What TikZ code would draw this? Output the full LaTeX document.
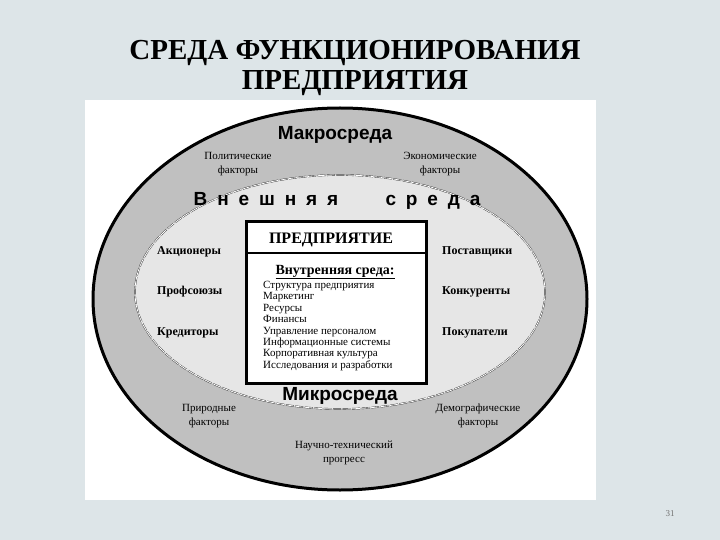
\documentclass[tikz,border=0pt]{standalone}
\usepackage{fontspec}
\setmainfont{Liberation Serif}
\newfontfamily\arialfont{Liberation Sans}
\newfontfamily\timesbold{Liberation Serif Bold}
\usetikzlibrary{positioning}
\definecolor{slidebg}{HTML}{DDE5E8}
\definecolor{macrogray}{HTML}{C0C0C0}
\definecolor{microgray}{HTML}{E6E6E6}

\begin{document}
\begin{tikzpicture}[x=1pt, y=-1pt,
    zone/.style={inner sep=0pt, anchor=base, font=\fontsize{19}{21}\selectfont\arialfont\bfseries},
    spaced/.style={zone, font=\fontsize{19}{21}\selectfont\arialfont\bfseries\addfontfeature{LetterSpace=52}},
    factor/.style={inner sep=0pt, align=center, font=\fontsize{11}{14}\selectfont},
    partner/.style={inner sep=0pt, anchor=west, font=\fontsize{12}{14}\selectfont\bfseries}]
  \fill [slidebg] (0,0) rectangle (720,540);
  \useasboundingbox (0,0) rectangle (720,540);
  \fill [white] (85,100) rectangle (596,500);

  % outer ring
  \draw [line width=3pt, fill=macrogray] (340,299) ellipse [x radius=247, y radius=191];
  % inner ring
  \draw [fill=microgray, draw=black!80, line width=0.4pt, double=white, double distance=0.8pt,
         dash pattern=on 8pt off 1.5pt] (340,292) ellipse [x radius=205, y radius=117];
  % enterprise box
  \draw [line width=3pt, fill=white] (246,222) rectangle (426,383);
  \draw [line width=2.5pt] (246,253) -- (426,253);

  \node [inner sep=0pt, align=center, font=\fontsize{29}{30}\selectfont\timesbold] (title) at (355,68)
    {СРЕДА ФУНКЦИОНИРОВАНИЯ\\ПРЕДПРИЯТИЯ};

  \node [zone] (macro) at (335,140) {Макросреда};
  \node [zone] (micro) at (340,400) {Микросреда};
  \node [spaced] (outer1) at (266,206) {Внешняя};
  \node [spaced] (outer2) at (433,206) {среда};

  \node [factor] (politics) at (238,164) {Политические\\факторы};
  \node [factor] (economy) at (440,164) {Экономические\\факторы};
  \node [factor] (nature) at (209,416) {Природные\\факторы};
  \node [factor] (demography) at (478,416) {Демографические\\факторы};
  \node [factor] (progress) at (344,453) {Научно-технический\\прогресс};

  \node [partner] (shareholders) at (157,252) {Акционеры};
  \node [partner] (unions) at (157,292) {Профсоюзы};
  \node [partner] (creditors) at (157,333) {Кредиторы};
  \node [partner] (suppliers) at (442,252) {Поставщики};
  \node [partner] (rivals) at (442,292) {Конкуренты};
  \node [partner] (buyers) at (442,333) {Покупатели};

  \node [inner sep=0pt, font=\fontsize{16}{18}\selectfont\bfseries] (firm) at (331,240) {ПРЕДПРИЯТИЕ};
  \node [inner sep=0pt, font=\fontsize{14}{16}\selectfont\bfseries] (inside) at (335,272) {\underline{Внутренняя среда:}};
  \node [inner sep=0pt, anchor=north west, align=left, font=\fontsize{11}{11.4}\selectfont] (functions) at (263,281)
    {Структура предприятия\\Маркетинг\\Ресурсы\\Финансы\\Управление персоналом\\Информационные системы\\Корпоративная культура\\Исследования и разработки};

  \node [inner sep=0pt, text=black!55, font=\fontsize{9}{10}\selectfont] (page) at (670,514) {31};
\end{tikzpicture}
\end{document}
